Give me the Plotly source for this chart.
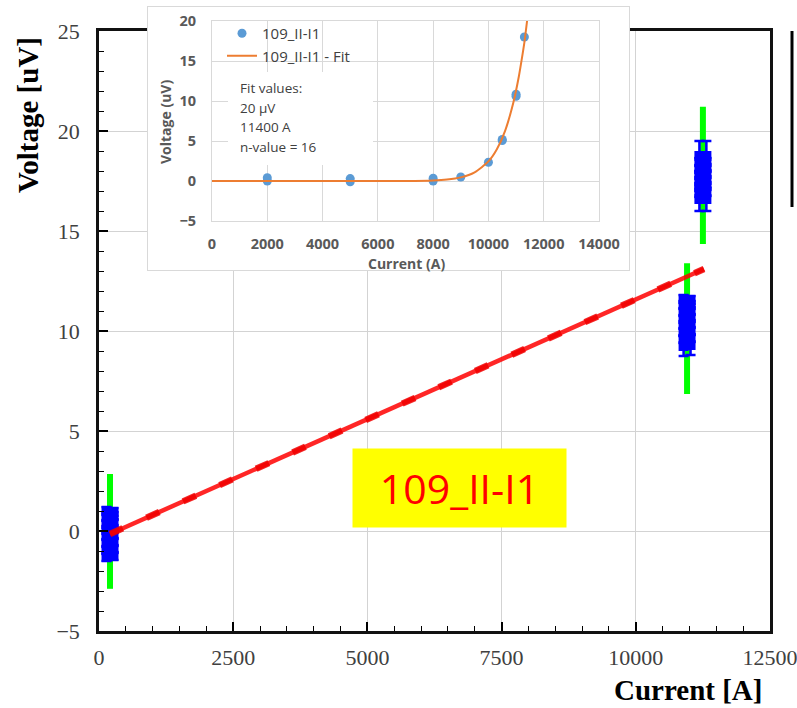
import plotly.graph_objects as go

W, H = 797, 708


def px(x):
    return x / W


def py(y):
    return 1 - y / H


# ---------------- main chart data ----------------
green_current = [205, 10955, 11250]
green_voltage = [-0.02, 10.12, 17.78]
green_error = [2.87, 3.27, 3.43]

blue_current = [
    140, 140, 140, 140, 140, 140, 140, 140,
    270, 270, 270, 270, 270, 270, 270, 270,
    10890, 10890, 10890, 10890, 10890, 10890, 10890, 10890,
    11020, 11020, 11020, 11020, 11020, 11020, 11020, 11020,
    11185, 11185, 11185, 11185, 11185, 11185, 11185, 11185,
    11315, 11315, 11315, 11315, 11315, 11315, 11315, 11315,
]
blue_voltage = [
    -1.3, -0.95, -0.6, -0.25, 0.05, 0.35, 0.7, 1.0,
    -1.25, -0.9, -0.55, -0.2, 0.1, 0.4, 0.75, 0.95,
    9.25, 9.6, 9.95, 10.3, 10.6, 10.95, 11.3, 11.6,
    9.3, 9.65, 10.0, 10.35, 10.65, 11.0, 11.3, 11.55,
    16.6, 16.9, 17.2, 17.5, 17.8, 18.1, 18.45, 18.75,
    16.6, 16.95, 17.25, 17.55, 17.85, 18.15, 18.45, 18.75,
]
blue_error = [
    0.2, 0.2, 0.2, 0.2, 0.2, 0.2, 0.2, 0.2,
    0.2, 0.2, 0.2, 0.2, 0.2, 0.2, 0.2, 0.2,
    0.5, 0.2, 0.2, 0.2, 0.2, 0.2, 0.2, 0.2,
    0.5, 0.2, 0.2, 0.2, 0.2, 0.2, 0.2, 0.2,
    0.6, 0.2, 0.2, 0.2, 0.2, 0.2, 0.2, 0.75,
    0.6, 0.2, 0.2, 0.2, 0.2, 0.2, 0.2, 0.75,
]

fit_current = [205, 11270]
fit_voltage = [-0.15, 13.1]

main_x_ticks = [0, 2500, 5000, 7500, 10000, 12500]
main_y_ticks = [-5, 0, 5, 10, 15, 20, 25]

# ---------------- inset data ----------------
inset_current = [2000, 2000, 5000, 5000, 8000, 8000, 9000, 10000, 10500, 10500, 11000, 11000, 11300]
inset_voltage = [0.4, 0.0, 0.3, -0.1, 0.35, 0.0, 0.5, 2.35, 5.2, 5.05, 10.85, 10.6, 18.0]
inset_fit_current = [0, 7000, 8000, 8500, 9000, 9500, 10000, 10300, 10600, 10900, 11100, 11200, 11300, 11450]
inset_fit_voltage = [0, 0.01, 0.07, 0.18, 0.45, 1.08, 2.45, 3.94, 6.24, 9.77, 13.06, 15.1, 17.3, 21.5]
fit_text = ["Fit values:", "20 µV", "11400 A", "n-value = 16"]
label_text = "109_II-I1"

fig = go.Figure()

# green bars
fig.add_trace(go.Scatter(
    x=green_current, y=green_voltage, mode="markers",
    marker=dict(size=1, color="rgba(0,0,0,0)"),
    error_y=dict(type="data", array=green_error, color="#00ff00", thickness=6, width=0),
    showlegend=False, hoverinfo="skip", xaxis="x", yaxis="y"))

# blue measurements
fig.add_trace(go.Scatter(
    x=blue_current, y=blue_voltage, mode="markers",
    marker=dict(size=10, symbol="square", color="#0000ff", line=dict(width=0)),
    error_y=dict(type="data", array=blue_error, color="#0000ff", thickness=2.5, width=5),
    showlegend=False, hoverinfo="skip", xaxis="x", yaxis="y"))

# red fit
fig.add_trace(go.Scatter(
    x=fit_current, y=fit_voltage, mode="lines",
    line=dict(color="rgba(255,0,0,0.85)", width=4.5),
    showlegend=False, hoverinfo="skip", xaxis="x", yaxis="y"))
fig.add_trace(go.Scatter(
    x=fit_current, y=fit_voltage, mode="lines",
    line=dict(color="rgba(240,0,0,0.85)", width=6.5, dash="14px,26px"),
    showlegend=False, hoverinfo="skip", xaxis="x", yaxis="y"))

# dummy trace for inset box subplot
fig.add_trace(go.Scatter(
    x=[0.5], y=[0.5], mode="markers", marker=dict(color="rgba(0,0,0,0)", size=1),
    showlegend=False, hoverinfo="skip", xaxis="x2", yaxis="y2"))

# inset traces
fig.add_trace(go.Scatter(
    x=inset_current, y=inset_voltage, mode="markers", name="109_II-I1",
    marker=dict(size=9, color="#5b9bd5"), xaxis="x3", yaxis="y3"))
fig.add_trace(go.Scatter(
    x=inset_fit_current, y=inset_fit_voltage, mode="lines", name="109_II-I1 - Fit",
    line=dict(color="#ed7d31", width=2, shape="spline", smoothing=0.6),
    xaxis="x3", yaxis="y3"))

serif = "Liberation Serif"
sans = "Open Sans"

fig.update_layout(
    width=W, height=H,
    margin=dict(l=0, r=0, t=0, b=0, autoexpand=False),
    paper_bgcolor="white", plot_bgcolor="white",
    xaxis=dict(
        domain=[px(99), px(770)], range=[0, 12500], automargin=False,
        tickvals=main_x_ticks, tickformat="d", ticks="inside", ticklen=9, tickwidth=1.5, tickcolor="black",
        minor=dict(dtick=500, tick0=0, ticks="inside", ticklen=5, tickwidth=1.2, tickcolor="black", showgrid=False),
        showgrid=True, gridcolor="#d3d3d3", gridwidth=1,
        showline=True, linecolor="#111", linewidth=2.5, mirror=True, zeroline=False,
        tickfont=dict(family=serif, size=22, color="#404040"), ticklabelstandoff=5,
        ticklabeloverflow="allow",
        anchor="y", fixedrange=True),
    yaxis=dict(
        domain=[py(631), py(31)], range=[-5, 25], automargin=False,
        tickvals=main_y_ticks, tickformat="d", ticks="inside", ticklen=9, tickwidth=1.5, tickcolor="black",
        minor=dict(dtick=1, tick0=0, ticks="inside", ticklen=5, tickwidth=1.2, tickcolor="black", showgrid=False),
        showgrid=True, gridcolor="#d3d3d3", gridwidth=1,
        showline=True, linecolor="#111", linewidth=2.5, mirror=True, zeroline=False,
        tickfont=dict(family=serif, size=22, color="#404040"), ticklabelstandoff=12,
        ticklabeloverflow="allow",
        anchor="x", fixedrange=True),
    xaxis2=dict(
        domain=[px(148), px(629)], range=[0, 1], showgrid=False, zeroline=False, automargin=False,
        showticklabels=False, ticks="", showline=True, linecolor="#d9d9d9", linewidth=1,
        mirror=True, anchor="y2", fixedrange=True),
    yaxis2=dict(
        domain=[py(270), py(7)], range=[0, 1], showgrid=False, zeroline=False, automargin=False,
        showticklabels=False, ticks="", showline=True, linecolor="#d9d9d9", linewidth=1,
        mirror=True, anchor="x2", fixedrange=True),
    xaxis3=dict(
        domain=[px(212), px(599)], range=[0, 14000], dtick=2000, tick0=0, tickformat="d",
        showgrid=True, gridcolor="#d9d9d9", zeroline=False, ticks="", automargin=False,
        showline=True, linecolor="#d9d9d9", mirror=True,
        tickfont=dict(family=sans, size=14.5, color="#595959", weight="bold"),
        ticklabelstandoff=10, anchor="y3", fixedrange=True),
    yaxis3=dict(
        domain=[py(221), py(21)], range=[-5, 20], dtick=5, tick0=0, tickformat="d",
        showgrid=True, gridcolor="#d9d9d9", zeroline=False, ticks="", automargin=False,
        showline=True, linecolor="#d9d9d9", mirror=True,
        tickfont=dict(family=sans, size=14.5, color="#595959", weight="bold"),
        ticklabelstandoff=12, anchor="x3", fixedrange=True),
    legend=dict(
        x=px(222), y=py(17), xanchor="left", yanchor="top",
        bgcolor="rgba(0,0,0,0)", borderwidth=0,
        font=dict(family=sans, size=15, color="#404040"),
        tracegroupgap=0, itemwidth=30),
    showlegend=True,
)

annotations = [
    dict(text="Voltage [uV]", x=px(28), y=py(115), xref="paper", yref="paper",
         textangle=-90, showarrow=False, xanchor="center", yanchor="middle",
         font=dict(family=serif, size=29, color="black", weight="bold")),
    dict(text="Current [A]", x=px(688), y=py(690), xref="paper", yref="paper",
         showarrow=False, xanchor="center", yanchor="middle",
         font=dict(family=serif, size=29, color="black", weight="bold")),
    dict(text=label_text, x=px(459.5), y=py(488), xref="paper", yref="paper",
         showarrow=False, xanchor="center", yanchor="middle",
         bgcolor="#ffff00", borderpad=0, width=213, height=78,
         font=dict(family=sans, size=41, color="#ff0000")),
    dict(text="Voltage (uV)", x=px(165), y=py(122), xref="paper", yref="paper",
         textangle=-90, showarrow=False, xanchor="center", yanchor="middle",
         font=dict(family=sans, size=14, color="#595959", weight="bold")),
    dict(text="Current (A)", x=px(406), y=py(263), xref="paper", yref="paper",
         showarrow=False, xanchor="center", yanchor="middle",
         font=dict(family=sans, size=14, color="#595959", weight="bold")),
]
fit_rows = [88, 108, 127, 147]
for txt, yy in zip(fit_text, fit_rows):
    annotations.append(dict(
        text=txt, x=px(238), y=py(yy), xref="paper", yref="paper",
        showarrow=False, xanchor="left", yanchor="middle",
        font=dict(family=sans, size=13.5, color="#404040")))
fig.update_layout(annotations=annotations)

fig.update_layout(shapes=[
    dict(type="rect", xref="paper", yref="paper",
         x0=px(228), x1=px(373), y0=py(165), y1=py(72),
         fillcolor="white", line=dict(width=0), layer="above"),
    dict(type="line", xref="paper", yref="paper",
         x0=px(792), x1=px(792), y0=py(207), y1=py(31),
         line=dict(color="black", width=3), layer="above"),
])

fig.write_html("out.html")
